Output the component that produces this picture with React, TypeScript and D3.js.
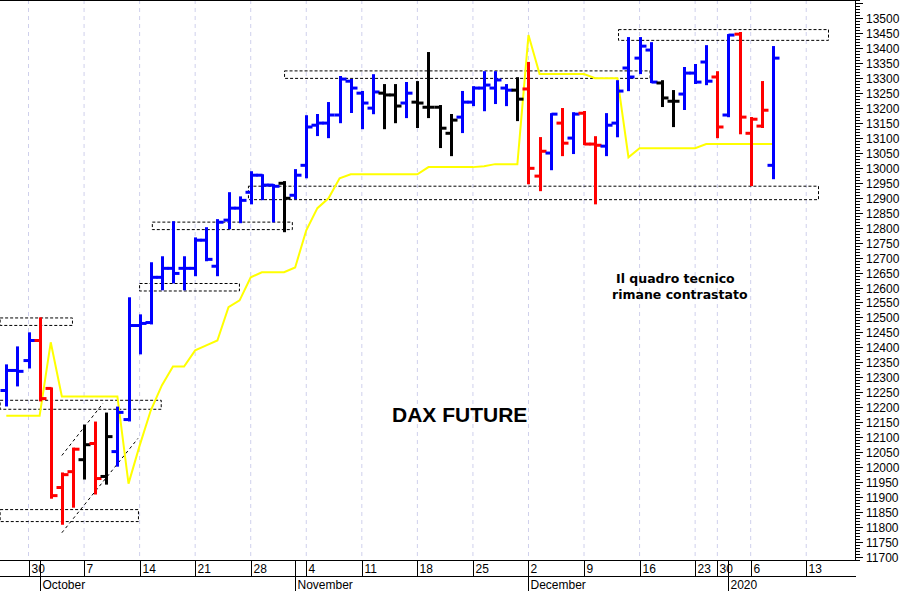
import React from 'react';
import * as d3 from 'd3';

const W = 906;
const H = 591;
const PLOT_RIGHT = 855;
const PLOT_BOTTOM = 560;

// Trading days (DAX future, daily bars)
const dates = [
  '2019-09-26', '2019-09-27', '2019-09-30', '2019-10-01', '2019-10-02', '2019-10-03', '2019-10-04',
  '2019-10-07', '2019-10-08', '2019-10-09', '2019-10-10', '2019-10-11',
  '2019-10-14', '2019-10-15', '2019-10-16', '2019-10-17', '2019-10-18',
  '2019-10-21', '2019-10-22', '2019-10-23', '2019-10-24', '2019-10-25',
  '2019-10-28', '2019-10-29', '2019-10-30', '2019-10-31', '2019-11-01',
  '2019-11-04', '2019-11-05', '2019-11-06', '2019-11-07', '2019-11-08',
  '2019-11-11', '2019-11-12', '2019-11-13', '2019-11-14', '2019-11-15',
  '2019-11-18', '2019-11-19', '2019-11-20', '2019-11-21', '2019-11-22',
  '2019-11-25', '2019-11-26', '2019-11-27', '2019-11-28', '2019-11-29',
  '2019-12-02', '2019-12-03', '2019-12-04', '2019-12-05', '2019-12-06',
  '2019-12-09', '2019-12-10', '2019-12-11', '2019-12-12', '2019-12-13',
  '2019-12-16', '2019-12-17', '2019-12-18', '2019-12-19', '2019-12-20',
  '2019-12-23', '2019-12-27', '2019-12-30', '2020-01-02', '2020-01-03',
  '2020-01-06', '2020-01-07', '2020-01-08',
];

const opens = [
  12256, 12323, 12356, 12423, 12263, 11932, 11985,
  12025, 12079, 11969, 12052, 12159,
  12473, 12483, 12634, 12664, 12664,
  12664, 12758, 12671, 12825, 12865,
  12918, 12975, 12942, 12948, 12908,
  13008, 13142, 13149, 13176, 13289,
  13249, 13199, 13249, 13243, 13216,
  13219, 13202, 13202, 13115, 13169,
  13219, 13266, 13266, 13266, 13259,
  13263, 12972, 13049, 13149, 13099,
  13182, 13079, 13072, 13149, 13333,
  13366, 13393, 13283, 13222, 13246,
  13316, 13353, 13303, 13176, 13446,
  13115, 13139, 13008,
];
const highs = [
  12340, 12400, 12447, 12497, 12263, 11979, 12062,
  12139, 12149, 12179, 12199, 12564,
  12507, 12681, 12701, 12818, 12701,
  12764, 12798, 12825, 12915, 12901,
  12985, 12975, 12942, 12952, 12992,
  13172, 13176, 13216, 13303, 13293,
  13253, 13309, 13276, 13276, 13283,
  13286, 13383, 13206, 13176, 13253,
  13269, 13319, 13319, 13276, 13299,
  13350, 13099, 13179, 13196, 13182,
  13186, 13102, 13179, 13289, 13433,
  13433, 13416, 13289, 13256, 13333,
  13343, 13406, 13319, 13443, 13450,
  13166, 13286, 13403,
];
const lows = [
  12206, 12273, 12333, 12223, 11898, 11811, 11868,
  11962, 11912, 11945, 12005, 12156,
  12380, 12480, 12594, 12617, 12594,
  12641, 12691, 12641, 12798, 12818,
  12881, 12895, 12821, 12788, 12898,
  12968, 13109, 13102, 13152, 13186,
  13132, 13182, 13132, 13152, 13169,
  13136, 13169, 13069, 13042, 13119,
  13209, 13192, 13216, 13209, 13159,
  12948, 12925, 12995, 13042, 13049,
  13079, 12881, 13042, 13105, 13259,
  13316, 13286, 13206, 13139, 13196,
  13283, 13279, 13102, 13172, 13115,
  12942, 13136, 12965,
];
const closes = [
  12323, 12320, 12423, 12229, 11905, 11975, 12060,
  12075, 11962, 12102, 12183, 12473,
  12480, 12634, 12664, 12647, 12664,
  12758, 12694, 12818, 12865, 12891,
  12975, 12942, 12938, 12898, 12975,
  13136, 13149, 13176, 13296, 13266,
  13216, 13253, 13243, 13206, 13249,
  13216, 13202, 13132, 13159, 13219,
  13266, 13276, 13293, 13259, 13229,
  12998, 13055, 13179, 13082, 13179,
  13079, 13075, 13142, 13256, 13303,
  13406, 13286, 13233, 13222, 13316,
  13286, 13289, 13136, 13443, 13169,
  13162, 13192, 13366,
];
// bar colour code: b = blue, r = red, k = black
const barColors = [
  'b', 'b', 'b', 'r', 'r', 'r', 'r',
  'k', 'r', 'k', 'b', 'b',
  'b', 'b', 'b', 'b', 'b',
  'b', 'b', 'b', 'b', 'b',
  'b', 'b', 'b', 'k', 'b',
  'b', 'b', 'b', 'b', 'b',
  'b', 'b', 'k', 'k', 'b',
  'k', 'k', 'k', 'k', 'b',
  'b', 'b', 'b', 'b', 'k',
  'r', 'r', 'b', 'r', 'b',
  'r', 'r', 'b', 'b', 'b',
  'b', 'b', 'k', 'k', 'b',
  'b', 'b', 'r', 'b', 'r',
  'r', 'r', 'b',
];
// yellow trailing stop line
const stopLine = [
  12172, 12172, 12172, 12172, 12417, 12236, 12236,
  12236, 12236, 12236, 12236, 11945,
  12072, 12189, 12273, 12336, 12336,
  12390, 12407, 12423, 12534, 12557,
  12634, 12651, 12651, 12651, 12667,
  12791, 12865, 12898, 12965, 12978,
  12978, 12978, 12978, 12978, 12978,
  12978, 13002, 13002, 13002, 13002,
  13002, 13005, 13012, 13012, 13012,
  13443, 13313, 13313, 13313, 13313,
  13313, 13299, 13299, 13299, 13035,
  13065, 13065, 13065, 13065, 13065,
  13065, 13079, 13079, 13079, 13079,
  13079, 13079, 13079,
];

// dashed horizontal zones (start/end in trading-day index, price bounds)
const zoneStart = [-0.6, -0.6, -0.6, 11.95, 13.1, 21.75, 25.0, 55.06];
const zoneEnd = [5.91, 13.9, 11.85, 20.94, 25.7, 73.06, 57.9, 73.96];
const zoneTop = [12500, 12225, 11860, 12615, 12820, 12940, 13325, 13463];
const zoneBottom = [12475, 12195, 11820, 12590, 12795, 12895, 13300, 13427];

// dashed rising channel (index, price)
const channelUpper = [[5.0, 12039], [8.7, 12213]];
const channelLower = [[5.0, 11781], [11.85, 12096]];

// x-axis labels
const weekTickIdx = [2, 7, 12, 17, 22, 27, 32, 37, 42, 47, 52, 57, 62, 64, 67, 72];
const weekTickLabels = ['30', '7', '14', '21', '28', '4', '11', '18', '25', '2', '9', '16', '23', '30', '6', '13'];
const monthIdx = [3, 26, 47, 65];
const monthLabels = ['October', 'November', 'December', '2020'];

const COLORS: Record<string, string> = { b: '#0000ff', r: '#ff0000', k: '#000000' };

export default function App() {
  const x = d3.scaleLinear().domain([-0.567, 76.39]).range([0, PLOT_RIGHT]);
  const y = d3.scaleLinear().domain([11700, 13500]).range([557, 18]);

  const yTicks = d3.range(11690, 13561, 10);
  const stopPath = d3
    .line<number>()
    .x((_, i) => x(i))
    .y((d) => y(d))(stopLine) as string;

  const font = 'Liberation Sans, Arial, sans-serif';

  return (
    <svg
      width={W}
      height={H}
      style={{ position: 'absolute', left: 0, top: 0, background: '#fff' }}
      xmlns="http://www.w3.org/2000/svg"
    >
      <rect x={0} y={0} width={W} height={H} fill="#fff" />
      {/* vertical weekly grid */}
      {weekTickIdx.map((t, i) => (
        <line
          key={'g' + i}
          x1={x(t)}
          x2={x(t)}
          y1={0}
          y2={PLOT_BOTTOM}
          stroke="#cfd0ec"
          strokeDasharray="4,4"
          strokeWidth={1}
        />
      ))}

      {/* zones */}
      {zoneStart.map((s, i) => (
        <rect
          key={'z' + i}
          x={x(s) + 0.5}
          y={y(zoneTop[i]) + 0.5}
          width={x(zoneEnd[i]) - x(s)}
          height={y(zoneBottom[i]) - y(zoneTop[i])}
          fill="none"
          stroke="#000"
          strokeWidth={1}
          strokeDasharray="3,2"
        />
      ))}
      {[channelUpper, channelLower].map((c, i) => (
        <line
          key={'c' + i}
          x1={x(c[0][0])}
          y1={y(c[0][1])}
          x2={x(c[1][0])}
          y2={y(c[1][1])}
          stroke="#000"
          strokeWidth={1}
          strokeDasharray="3,3"
        />
      ))}

      {/* stop line */}
      <path d={stopPath} fill="none" stroke="#ffff00" strokeWidth={2} />

      {/* OHLC bars */}
      {dates.map((d, i) => {
        const cx = Math.round(x(i)) + 0.5;
        const c = COLORS[barColors[i]];
        return (
          <g key={d} stroke={c} strokeWidth={3}>
            <line x1={cx} x2={cx} y1={y(highs[i]) - 1} y2={y(lows[i]) + 1} />
            <line x1={cx - 6} x2={cx} y1={y(opens[i])} y2={y(opens[i])} />
            <line x1={cx} x2={cx + 6} y1={y(closes[i])} y2={y(closes[i])} />
          </g>
        );
      })}

      {/* right axis */}
      <line x1={0} x2={PLOT_RIGHT} y1={0.5} y2={0.5} stroke="#000" />
      <line x1={PLOT_RIGHT + 0.5} x2={PLOT_RIGHT + 0.5} y1={0} y2={PLOT_BOTTOM} stroke="#000" />
      {yTicks.map((v) => {
        const major = v % 50 === 0;
        const yy = Math.round(y(v)) + 0.5;
        return (
          <g key={'t' + v}>
            <line x1={PLOT_RIGHT} x2={PLOT_RIGHT + (major ? 8 : 5)} y1={yy} y2={yy} stroke="#000" strokeWidth={1} />
            {major && v >= 11700 && v <= 13500 && (
              <text x={866} y={yy + 4} fontFamily={font} fontSize={12} fill="#000">
                {v}
              </text>
            )}
          </g>
        );
      })}

      {/* bottom date axis */}
      <line x1={0} x2={PLOT_RIGHT + 1} y1={PLOT_BOTTOM + 0.5} y2={PLOT_BOTTOM + 0.5} stroke="#000" />
      <line x1={0} x2={PLOT_RIGHT + 1} y1={576.5} y2={576.5} stroke="#000" />
      {weekTickIdx.map((t, i) => {
        const xx = Math.round(x(t)) + 0.5;
        return (
          <g key={'w' + i}>
            <line x1={xx} x2={xx} y1={PLOT_BOTTOM} y2={576} stroke="#000" />
            <text x={xx + 2} y={573} fontFamily={font} fontSize={12} fill="#000">
              {weekTickLabels[i]}
            </text>
          </g>
        );
      })}
      {monthIdx.map((t, i) => {
        const xx = Math.round(x(t)) + 0.5;
        return (
          <g key={'m' + i}>
            <line x1={xx} x2={xx} y1={PLOT_BOTTOM} y2={H} stroke="#000" />
            <text x={xx + 2} y={589} fontFamily={font} fontSize={12} fill="#000">
              {monthLabels[i]}
            </text>
          </g>
        );
      })}

      {/* annotations */}
      <text x={392} y={422} fontFamily={font} fontWeight="bold" fontSize={21} fill="#000">
        DAX FUTURE
      </text>
      <text x={616} y={283} fontFamily="DejaVu Sans, Verdana, sans-serif" fontWeight="bold" fontSize={12.5} fill="#000">
        Il quadro tecnico
      </text>
      <text x={612} y={299} fontFamily="DejaVu Sans, Verdana, sans-serif" fontWeight="bold" fontSize={12.5} fill="#000">
        rimane contrastato
      </text>
    </svg>
  );
}
